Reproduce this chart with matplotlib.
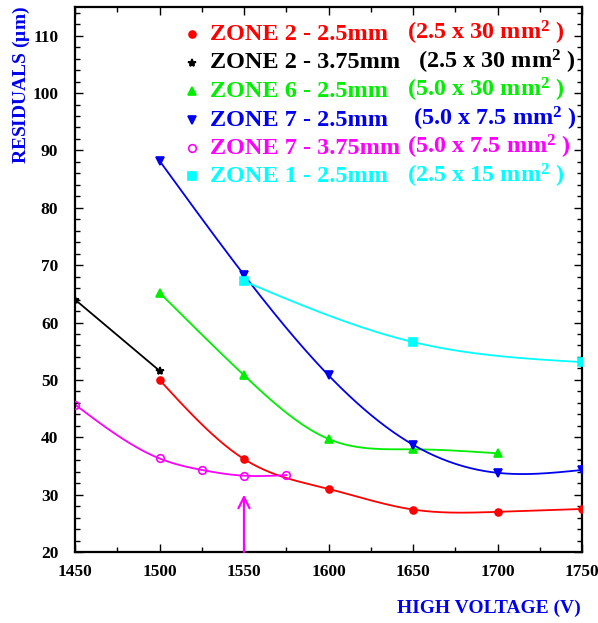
import numpy as np
import matplotlib
matplotlib.use("Agg")
import matplotlib.pyplot as plt
from matplotlib.lines import Line2D

plt.rcParams['font.family'] = ['Liberation Serif', 'DejaVu Serif']
plt.rcParams['mathtext.fontset'] = 'custom'
plt.rcParams['mathtext.rm'] = 'Liberation Serif:bold'
plt.rcParams['mathtext.it'] = 'Liberation Serif:bold:italic'
plt.rcParams['mathtext.bf'] = 'Liberation Serif:bold'

# ---------------- data ----------------
z2_25_x = [1500, 1550, 1600, 1650, 1700, 1750]
z2_25_y = [50.0, 36.2, 31.0, 27.4, 27.0, 27.5]

z2_375_x = [1450, 1500]
z2_375_y = [64.0, 51.6]

z6_25_x = [1500, 1550, 1600, 1650, 1700]
z6_25_y = [65.2, 50.8, 39.7, 37.9, 37.2]

z7_25_x = [1500, 1550, 1600, 1650, 1700, 1750]
z7_25_y = [88.2, 68.3, 50.8, 38.7, 33.8, 34.3]

z7_375_x = [1450, 1500, 1525, 1550, 1575]
z7_375_y = [45.7, 36.3, 34.3, 33.3, 33.4]

z1_25_x = [1550, 1650, 1750]
z1_25_y = [67.2, 56.6, 53.1]

labels_main = ["ZONE 2 - 2.5mm", "ZONE 2 - 3.75mm", "ZONE 6 - 2.5mm",
               "ZONE 7 - 2.5mm", "ZONE 7 - 3.75mm", "ZONE 1 - 2.5mm"]
labels_area = [r"(2.5 x 30 mm$^{2}$ )", r"(2.5 x 30 mm$^{2}$ )", r"(5.0 x 30 mm$^{2}$ )",
               r"(5.0 x 7.5 mm$^{2}$ )", r"(5.0 x 7.5 mm$^{2}$ )", r"(2.5 x 15 mm$^{2}$ )"]

arrow_x = 1550
arrow_y = (20, 30)

x_ticks = [1450, 1500, 1550, 1600, 1650, 1700, 1750]
y_ticks = [20, 30, 40, 50, 60, 70, 80, 90, 100, 110]


def natural_spline(x, y, xs):
    x = np.asarray(x, float); y = np.asarray(y, float)
    n = len(x)
    if n < 3:
        return np.interp(xs, x, y)
    h = np.diff(x)
    A = np.zeros((n, n)); b = np.zeros(n)
    A[0, 0] = 1; A[-1, -1] = 1
    for i in range(1, n - 1):
        A[i, i - 1] = h[i - 1]
        A[i, i] = 2 * (h[i - 1] + h[i])
        A[i, i + 1] = h[i]
        b[i] = 6 * ((y[i + 1] - y[i]) / h[i] - (y[i] - y[i - 1]) / h[i - 1])
    M = np.linalg.solve(A, b)
    out = np.empty_like(xs, dtype=float)
    for k, xv in enumerate(xs):
        i = min(max(np.searchsorted(x, xv) - 1, 0), n - 2)
        t1 = x[i + 1] - xv; t0 = xv - x[i]
        out[k] = (M[i] * t1 ** 3 + M[i + 1] * t0 ** 3) / (6 * h[i]) \
            + (y[i] / h[i] - M[i] * h[i] / 6) * t1 \
            + (y[i + 1] / h[i] - M[i + 1] * h[i] / 6) * t0
    return out


W, H = 598, 623
fig = plt.figure(figsize=(W / 100, H / 100), dpi=100)


def fx(px):
    return px / W


def fy(py):
    return 1 - py / H


ax = fig.add_axes([fx(75), fy(552), fx(582) - fx(75), fy(7) - fy(552)])
ax.set_xlim(1450, 1750)
ax.set_ylim(20, 115)

series = [
    (z2_25_x, z2_25_y, 'red', 'o', 5, 'red', True),
    (z2_375_x, z2_375_y, 'black', '*', 6, 'black', False),
    (z6_25_x, z6_25_y, '#00ee00', '^', 6, '#00ee00', True),
    (z7_25_x, z7_25_y, '#0000ee', 'v', 6, '#0000ee', True),
    (z7_375_x, z7_375_y, '#ff00ff', 'o', 5.5, 'none', True),
    (z1_25_x, z1_25_y, '#00ffff', 's', 5.5, '#00ffff', True),
]

for xs, ys, c, m, ms, mfc, smooth in series:
    if smooth:
        xx = np.linspace(xs[0], xs[-1], 300)
        yy = natural_spline(xs, ys, xx)
    else:
        xx, yy = xs, ys
    ax.plot(xx, yy, color=c, lw=1.3, zorder=2)
    ax.plot(xs, ys, ls='none', marker=m, ms=ms, color=c, mfc=mfc, mec=c,
            mew=1.2, zorder=3)

ax.annotate('', xy=(arrow_x, arrow_y[1]), xytext=(arrow_x, arrow_y[0]),
            arrowprops=dict(arrowstyle='->,head_length=0.8,head_width=0.4',
                            color='#ff00ff', lw=1.6, shrinkA=0, shrinkB=0))

ax.set_xticks(x_ticks)
ax.set_yticks(y_ticks)
ax.set_xticks(np.arange(1450, 1751, 25), minor=True)
ax.set_yticks(np.arange(20, 115, 2), minor=True)
ax.tick_params(which='both', direction='in', top=True, right=True, width=1.0)
ax.tick_params(which='major', length=6)
ax.tick_params(which='minor', length=3.5)
ax.tick_params(axis='x', which='major', pad=9, labelsize=12.5)
ax.tick_params(axis='y', which='major', pad=12, labelsize=12.5)
for lab in ax.get_xticklabels() + ax.get_yticklabels():
    lab.set_fontweight('bold')
for s in ax.spines.values():
    s.set_linewidth(1.6)

fig.text(fx(21), fy(6), r"RESIDUALS ($\mathregular{\mu}$m)", rotation=90,
         ha='center', va='top', color='#0000ee', fontsize=14, fontweight='bold')
fig.text(fx(581), fy(608), "HIGH VOLTAGE (V)", ha='right', va='center',
         color='#0000ee', fontsize=14, fontweight='bold')

# legend
leg_y = [40, 68.5, 97, 125.5, 154, 182.5]
area_x = [407, 418, 407, 413, 407, 407]
for i, (xs, ys, c, m, ms, mfc, smooth) in enumerate(series):
    ln = Line2D([fx(192)], [fy(leg_y[i] - 6)], transform=fig.transFigure,
                ls='none', marker=m, ms=ms, color=c, mfc=mfc, mec=c, mew=1.2)
    fig.add_artist(ln)
    fig.text(fx(210), fy(leg_y[i]), labels_main[i], color=c, fontsize=17.5,
             fontweight='bold', va='baseline', ha='left')
    fig.text(fx(area_x[i]), fy(leg_y[i]), labels_area[i], color=c, fontsize=17.5,
             fontweight='bold', va='baseline', ha='left')

fig.savefig('out.png', dpi=100)
